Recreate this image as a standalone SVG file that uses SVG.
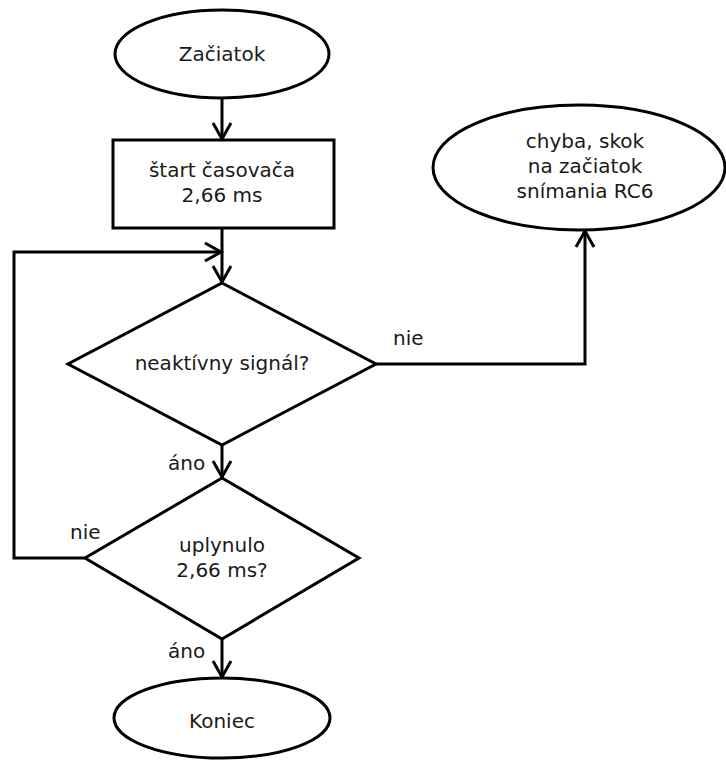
<svg xmlns="http://www.w3.org/2000/svg" width="726" height="760" viewBox="0 0 726 760">
<defs>
<marker id="arr" markerUnits="userSpaceOnUse" markerWidth="24" markerHeight="24" refX="0" refY="0" viewBox="-20 -12 22 24" orient="auto" overflow="visible">
<path d="M-16,-9 L0,0 L-16,9" fill="none" stroke="#000" stroke-width="3"/>
</marker>
<style>
.shape{fill:#fff;stroke:#000;stroke-width:3}
.conn{fill:none;stroke:#000;stroke-width:3;marker-end:url(#arr)}
text{font-family:"DejaVu Sans","Liberation Sans",sans-serif;font-size:20px;fill:#1a1a1a}
.c{text-anchor:middle}
</style>
</defs>
<rect width="726" height="760" fill="#fff"/>
<g id="connectors">
<path class="conn" d="M222,98 L222,139"/>
<path class="conn" d="M222,228 L222,282"/>
<path class="conn" d="M376,364 L585,364 L585,231"/>
<path class="conn" d="M222,445 L222,477"/>
<path class="conn" d="M222,639 L222,677"/>
<path class="conn" d="M85,558 L14,558 L14,252 L221,252"/>
</g>
<g id="start">
<ellipse class="shape" cx="222" cy="54" rx="107" ry="44"/>
<text class="c" x="222" y="61">Začiatok</text>
</g>
<g id="timer">
<rect class="shape" x="113" y="140" width="221" height="88"/>
<text class="c" x="222" y="177">štart časovača</text>
<text class="c" x="222" y="202">2,66 ms</text>
</g>
<g id="error">
<ellipse class="shape" cx="579" cy="167.5" rx="146" ry="62.5"/>
<text class="c" x="585" y="148">chyba, skok</text>
<text class="c" x="585" y="173">na začiatok</text>
<text class="c" x="585" y="198">snímania RC6</text>
</g>
<g id="decision1">
<polygon class="shape" points="222,283 376,364 222,445 68,364"/>
<text class="c" x="222" y="370">neaktívny signál?</text>
</g>
<g id="decision2">
<polygon class="shape" points="222,478 359,558 222,639 85,558"/>
<text class="c" x="222" y="552">uplynulo</text>
<text class="c" x="222" y="577">2,66 ms?</text>
</g>
<g id="end">
<ellipse class="shape" cx="222" cy="718" rx="108" ry="40"/>
<text class="c" x="222" y="728">Koniec</text>
</g>
<g id="labels">
<text x="393" y="345">nie</text>
<text x="168" y="470">áno</text>
<text x="70" y="539">nie</text>
<text x="168" y="658">áno</text>
</g>
</svg>
